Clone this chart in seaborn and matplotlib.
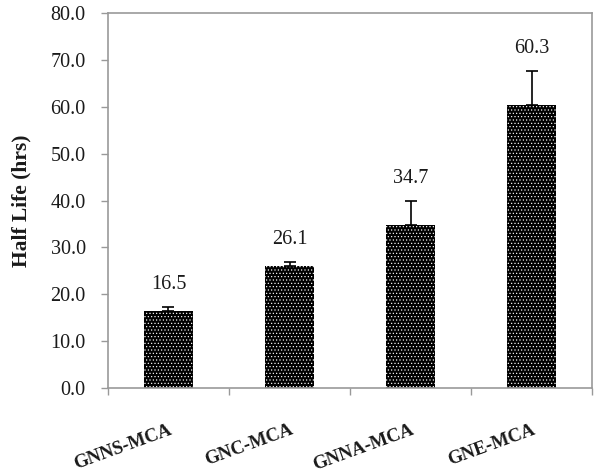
import numpy as np
import pandas as pd
import seaborn as sns
import matplotlib.pyplot as plt
from matplotlib.ticker import FixedLocator, FormatStrFormatter

# Half life values
samples = ["GNNS-MCA", "GNC-MCA", "GNNA-MCA", "GNE-MCA"]
half_life = [16.5, 26.1, 34.7, 60.3]
half_life_err = [0.8, 0.8, 5.2, 7.4]

df = pd.DataFrame({"Sample": samples, "HalfLife": half_life})

sns.set_style("white")
plt.rcParams["font.family"] = ["Liberation Serif", "DejaVu Serif"]
plt.rcParams["hatch.linewidth"] = 0.45

fig = plt.figure(figsize=(6.02, 4.74), dpi=100)
ax = fig.add_axes([0.1794, 0.1814, 0.804, 0.7912])

sns.barplot(data=df, x="Sample", y="HalfLife", color="black", saturation=1,
            width=0.4, errorbar=None, edgecolor="white", linewidth=0,
            hatch=".....", ax=ax)

# upper error bars only
x_pos = np.arange(len(samples))
ax.errorbar(x_pos, half_life, yerr=[np.zeros(len(samples)), half_life_err],
            fmt="none", ecolor="black", elinewidth=1.2, capsize=4, capthick=1.2)

# value labels above the error bars
for i, (v, e) in enumerate(zip(half_life, half_life_err)):
    ax.annotate(f"{v:.1f}", xy=(i, v + e), xytext=(0, 13), textcoords="offset points",
                ha="center", va="baseline", fontsize=14.5, color="#1a1a1a")

ax.set_ylim(0, 80)
ax.set_xlim(-0.5, len(samples) - 0.5)
ax.set_yticks(np.arange(0, 81, 10))
ax.yaxis.set_major_formatter(FormatStrFormatter("%.1f"))
ax.tick_params(axis="y", direction="out", length=5, width=1, color="#999999",
               labelsize=14.5, pad=11, labelcolor="#1a1a1a", left=True)

# category separators as minor ticks, labels on major ticks without marks
ax.xaxis.set_minor_locator(FixedLocator(np.arange(-0.5, len(samples), 1.0)))
ax.tick_params(axis="x", which="minor", direction="out", length=5, width=1,
               color="#999999", bottom=True)
ax.tick_params(axis="x", which="major", length=0, pad=24)
ax.set_xticks(x_pos)
ax.set_xticklabels(samples, rotation=20, ha="right", va="top",
                   rotation_mode="anchor", fontsize=13.5, fontweight="bold",
                   color="#1a1a1a")

ax.set_xlabel("")
ax.set_ylabel("Half Life (hrs)", fontsize=15.5, fontweight="bold", color="#1a1a1a",
              labelpad=14)

for side in ["left", "right", "top", "bottom"]:
    ax.spines[side].set_visible(True)
    ax.spines[side].set_color("#999999")
    ax.spines[side].set_linewidth(1.2)

plt.savefig("out.png", dpi=100)
